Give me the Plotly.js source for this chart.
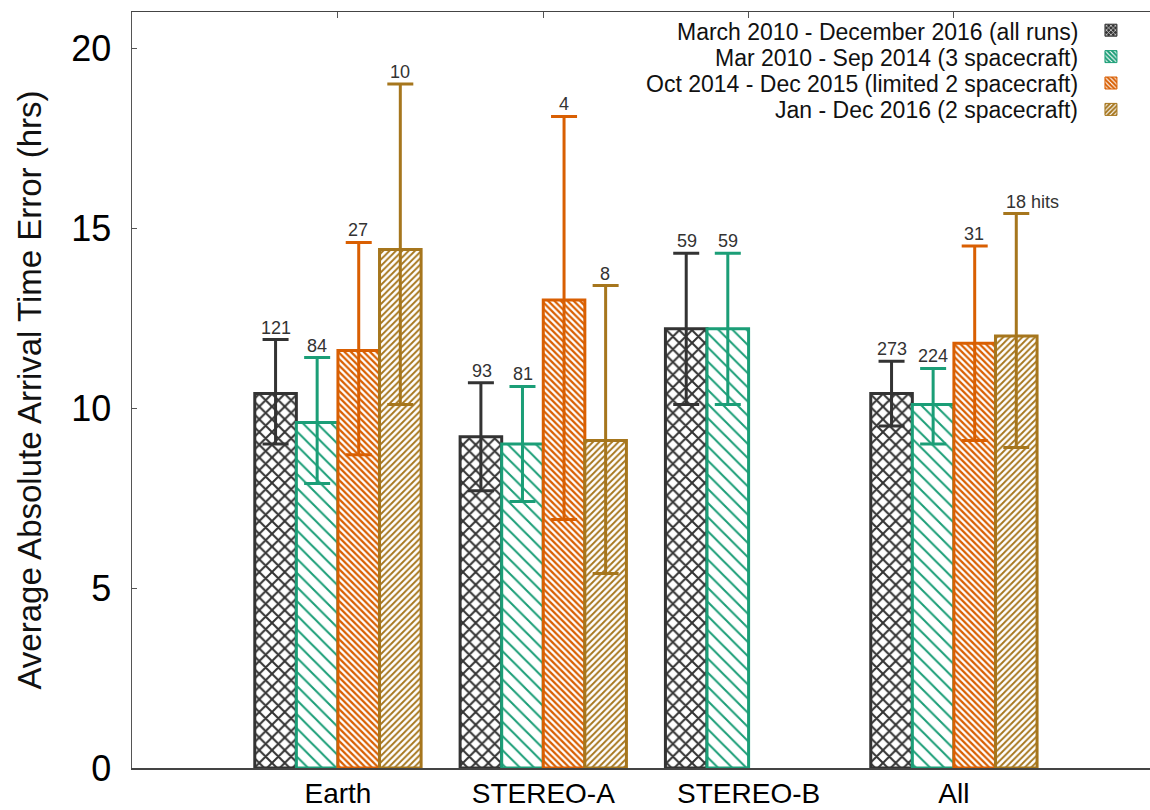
<!DOCTYPE html>
<html>
<head>
<meta charset="utf-8">
<script src="https://cdn.plot.ly/plotly-3.0.1.min.js"></script>
<style>html,body{margin:0;padding:0;background:#fff;}#chart{width:1150px;height:810px;}</style>
</head>
<body>
<div id="chart"></div>
<script>
// ---- data ----
var categories = ['Earth', 'STEREO-A', 'STEREO-B', 'All'];
var seriesNames = [
  'March 2010 - December 2016 (all runs)',
  'Mar 2010 - Sep 2014 (3 spacecraft)',
  'Oct 2014 - Dec 2015 (limited 2 spacecraft)',
  'Jan - Dec 2016 (2 spacecraft)'
];
var allRunsMean  = [10.4, 9.2, 12.2, 10.4];
var allRunsLow   = [9.0, 7.7, 10.1, 9.5];
var allRunsHigh  = [11.9, 10.7, 14.3, 11.3];
var allRunsCount = ['121', '93', '59', '273'];

var threeScMean  = [9.6, 9.0, 12.2, 10.1];
var threeScLow   = [7.9, 7.4, 10.1, 9.0];
var threeScHigh  = [11.4, 10.6, 14.3, 11.1];
var threeScCount = ['84', '81', '59', '224'];

var limitedMean  = [11.6, 13.0, null, 11.8];
var limitedLow   = [8.7, 6.9, null, 9.1];
var limitedHigh  = [14.6, 18.1, null, 14.5];
var limitedCount = ['27', '4', null, '31'];

var twoScMean    = [14.4, 9.1, null, 12.0];
var twoScLow     = [10.1, 5.4, null, 8.9];
var twoScHigh    = [19.0, 13.4, null, 15.4];
var twoScCount   = ['10', '8', null, '18 hits'];

var yTicks = [0, 5, 10, 15, 20];

// ---- styling ----
var colors = ['#333333', '#1b9e77', '#d95f02', '#a6761d'];
var patterns = [
  {shape: 'x', size: 9, solidity: 0.4},
  {shape: '\\', size: 10, solidity: 0.2},
  {shape: '\\', size: 4.5, solidity: 0.5},
  {shape: '/', size: 4.5, solidity: 0.42}
];
var means = [allRunsMean, threeScMean, limitedMean, twoScMean];
var lows = [allRunsLow, threeScLow, limitedLow, twoScLow];
var highs = [allRunsHigh, threeScHigh, limitedHigh, twoScHigh];
var counts = [allRunsCount, threeScCount, limitedCount, twoScCount];

var FONT = 'Liberation Sans, Arial, Helvetica, sans-serif';
var traces = [];
var legendTraces = [];
var annotations = [];
var nSeries = means.length;
var slot = 0.8 / nSeries;

for (var s = 0; s < nSeries; s++) {
  var plus = means[s].map(function (m, i) { return m == null ? null : highs[s][i] - m; });
  var minus = means[s].map(function (m, i) { return m == null ? null : m - lows[s][i]; });
  traces.push({
    type: 'bar',
    name: seriesNames[s],
    showlegend: false,
    x: categories,
    y: means[s],
    marker: {
      color: '#ffffff',
      line: {color: colors[s], width: 3},
      pattern: {shape: patterns[s].shape, size: patterns[s].size, solidity: patterns[s].solidity,
                fgcolor: colors[s], bgcolor: '#ffffff', fgopacity: 1, fillmode: 'overlay'}
    },
    error_y: {type: 'data', symmetric: false, array: plus, arrayminus: minus,
              color: colors[s], thickness: 3, width: 13},
    hoverinfo: 'skip'
  });
  // legend key only: solid colour with white hatching, kept on a hidden axis outside its visible range
  legendTraces.push({
    type: 'bar',
    name: '',
    x: [0], y: [1],
    xaxis: 'x2', yaxis: 'y2',
    showlegend: true,
    marker: {
      color: colors[s],
      line: {color: colors[s], width: 1},
      pattern: {shape: patterns[s].shape, size: 4, solidity: 0.35,
                fgcolor: '#ffffff', bgcolor: colors[s], fgopacity: 1, fillmode: 'overlay'}
    },
    hoverinfo: 'skip'
  });
  // count labels above upper error bar
  for (var i = 0; i < categories.length; i++) {
    if (counts[s][i] == null) continue;
    var isHits = counts[s][i].indexOf(' ') > 0;
    annotations.push({
      xref: 'x', yref: 'y',
      x: i + (s - (nSeries - 1) / 2) * slot,
      y: highs[s][i],
      text: counts[s][i],
      showarrow: false,
      xanchor: isHits ? 'left' : 'center',
      xshift: isHits ? -12 : 0,
      yanchor: 'bottom',
      font: {family: FONT, size: 18, color: '#333333'}
    });
  }
  // legend text (placed to the left of the legend key)
  annotations.push({
    xref: 'paper', yref: 'paper',
    x: 0.931, y: 0.9735 - s * 0.0345,
    text: seriesNames[s],
    showarrow: false,
    xanchor: 'right', yanchor: 'middle',
    font: {family: FONT, size: 23, color: '#111111'}
  });
}

var layout = {
  width: 1150, height: 810,
  margin: {l: 132, r: 0, t: 12, b: 42, pad: 0},
  paper_bgcolor: '#ffffff', plot_bgcolor: '#ffffff',
  barmode: 'group', bargap: 0.19, bargroupgap: 0,
  showlegend: true,
  legend: {x: 0.942, xanchor: 'left', y: 1, yanchor: 'top', bgcolor: 'rgba(0,0,0,0)',
           font: {family: FONT, size: 18}, traceorder: 'normal', itemclick: false},
  xaxis: {
    type: 'category', range: [-1.003, 3.955],
    showline: true, linecolor: '#444444', linewidth: 1.5, mirror: 'ticks',
    ticks: 'inside', ticklen: 6, tickcolor: '#555555', layer: 'below traces',
    ticklabelstandoff: 0,
    tickfont: {family: FONT, size: 28, color: '#000000'},
    showgrid: false, zeroline: false, fixedrange: true
  },
  yaxis: {
    range: [0, 21], tickmode: 'array', tickvals: yTicks, ticktext: yTicks.map(String),
    showline: true, linecolor: '#555555', linewidth: 1.5, mirror: false,
    ticks: 'inside', ticklen: 5, tickcolor: '#555555',
    ticklabelstandoff: 12,
    tickfont: {family: FONT, size: 36, color: '#000000'},
    title: {text: 'Average Absolute Arrival Time Error (hrs)', standoff: 19,
            font: {family: FONT, size: 33, color: '#111111'}},
    showgrid: false, zeroline: false, fixedrange: true
  },
  xaxis2: {domain: [0.99, 1], anchor: 'y2', type: 'linear', range: [10, 11], visible: false, fixedrange: true},
  yaxis2: {domain: [0, 0.01], anchor: 'x2', type: 'linear', range: [10, 11], visible: false, fixedrange: true},
  annotations: annotations
};

Plotly.newPlot('chart', traces.concat(legendTraces), layout, {displayModeBar: false, staticPlot: true});
</script>
</body>
</html>
